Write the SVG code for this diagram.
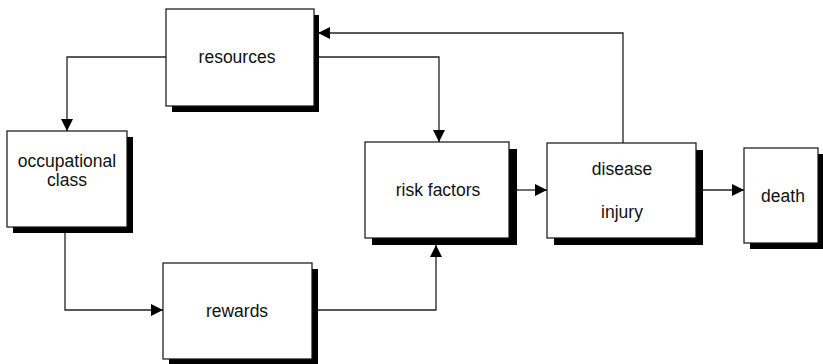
<svg xmlns="http://www.w3.org/2000/svg" width="823" height="364" viewBox="0 0 823 364">
<defs>
<style>
.box{fill:#fff;stroke:#111;stroke-width:1.2}
.sh{fill:#000}
.t{font-family:"Liberation Sans",Arial,sans-serif;font-size:17.5px;fill:#111;text-anchor:middle}
.c{fill:none;stroke:#222;stroke-width:1.3}
</style>
<marker id="ah" viewBox="0 0 10 10" refX="10" refY="5" markerWidth="12" markerHeight="12" markerUnits="userSpaceOnUse" orient="auto">
<path d="M0,0 L10,5 L0,10 Z" fill="#000"/>
</marker>
</defs>
<g id="connectors">
<path class="c" d="M166,57 H67 V131" marker-end="url(#ah)"/>
<path class="c" d="M318,57 H439 V142" marker-end="url(#ah)"/>
<path class="c" d="M623,143 V33 H318" marker-end="url(#ah)"/>
<path class="c" d="M65,233 V310 H163" marker-end="url(#ah)"/>
<path class="c" d="M317,310 H436 V245" marker-end="url(#ah)"/>
<path class="c" d="M517,190 H547" marker-end="url(#ah)"/>
<path class="c" d="M703,190 H744" marker-end="url(#ah)"/>
</g>
<g id="resources">
<rect class="sh" x="172" y="15" width="147" height="97"/>
<rect class="box" x="166" y="9" width="148" height="97"/>
<text class="t" x="237" y="63">resources</text>
</g>
<g id="occupational-class">
<rect class="sh" x="13" y="137" width="120" height="96"/>
<rect class="box" x="7" y="131" width="120" height="96"/>
<text class="t" x="67" y="167">occupational</text>
<text class="t" x="67" y="186">class</text>
</g>
<g id="rewards">
<rect class="sh" x="169" y="269" width="149" height="96"/>
<rect class="box" x="163" y="263" width="149" height="96"/>
<text class="t" x="237" y="317">rewards</text>
</g>
<g id="risk-factors">
<rect class="sh" x="372" y="149" width="145" height="96"/>
<rect class="box" x="365" y="142" width="144" height="96"/>
<text class="t" x="438" y="196">risk factors</text>
</g>
<g id="disease-injury">
<rect class="sh" x="554" y="150" width="149" height="95"/>
<rect class="box" x="547" y="143" width="149" height="95"/>
<text class="t" x="622" y="175">disease</text>
<text class="t" x="622" y="218">injury</text>
</g>
<g id="death">
<rect class="sh" x="750" y="154" width="74" height="95"/>
<rect class="box" x="744" y="148" width="74" height="95"/>
<text class="t" x="783" y="202">death</text>
</g>
</svg>
